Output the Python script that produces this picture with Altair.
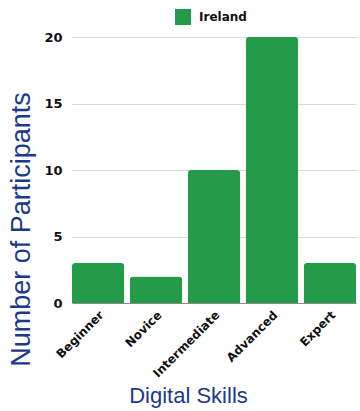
import altair as alt
import pandas as pd

# Participants per digital skill level
skills = ["Beginner", "Novice", "Intermediate", "Advanced", "Expert"]
participants = [3, 2, 10, 20, 3]
country = ["Ireland"] * len(skills)

df = pd.DataFrame({"skill": skills, "count": participants, "country": country})

TICK_FONT = "DejaVu Sans"
TITLE_FONT = "Liberation Sans"
TITLE_COLOR = "#1c3a8c"

bars = (
    alt.Chart(df)
    .mark_bar(cornerRadiusTopLeft=3, cornerRadiusTopRight=3)
    .encode(
        x=alt.X(
            "skill:N",
            sort=skills,
            scale=alt.Scale(paddingInner=0.1, paddingOuter=0),
            axis=alt.Axis(
                title="Digital Skills",
                labelAngle=-45,
                labelAlign="right",
                labelBaseline="top",
                labelFont=TICK_FONT,
                labelFontWeight="bold",
                labelFontSize=12,
                labelColor="#111111",
                labelPadding=6,
                ticks=False,
                domain=True,
                domainColor="#8a8a8a",
                domainWidth=1,
                titleFont=TITLE_FONT,
                titleFontWeight="normal",
                titleFontSize=22,
                titleColor=TITLE_COLOR,
                titleAlign="center",
                titleBaseline="alphabetic",
                titleX=116,
                titleY=99,
            ),
        ),
        y=alt.Y(
            "count:Q",
            scale=alt.Scale(domain=[0, 20]),
            axis=alt.Axis(
                title="Number of Participants",
                values=[0, 5, 10, 15, 20],
                labelFont=TICK_FONT,
                labelFontWeight="bold",
                labelFontSize=13,
                labelColor="#111111",
                labelPadding=10,
                ticks=False,
                domain=False,
                grid=True,
                gridColor="#d9d9d9",
                gridWidth=1,
                titleFont=TITLE_FONT,
                titleFontWeight="normal",
                titleFontSize=27,
                titleColor=TITLE_COLOR,
                titleX=-51,
                titleY=192,
                titleAlign="center",
                titleBaseline="middle",
                titleAngle=270,
            ),
        ),
        color=alt.Color(
            "country:N",
            scale=alt.Scale(range=["#239b48"]),
            legend=alt.Legend(
                title=None,
                orient="none",
                legendX=103,
                legendY=-28,
                symbolType="square",
                symbolSize=256,
                symbolStrokeWidth=0,
                labelFont=TICK_FONT,
                labelFontWeight="bold",
                labelFontSize=12,
                labelColor="#111111",
                labelOffset=8,
            ),
        ),
    )
)

chart = (
    bars.properties(
        width=284,
        height=266,
        background="white",
        autosize=alt.AutoSizeParams(type="none"),
        padding={"left": 72, "top": 37, "right": 4, "bottom": 108},
    )
    .configure_view(stroke=None)
)

chart.save("out.html", embed_options={"renderer": "svg", "actions": False})
